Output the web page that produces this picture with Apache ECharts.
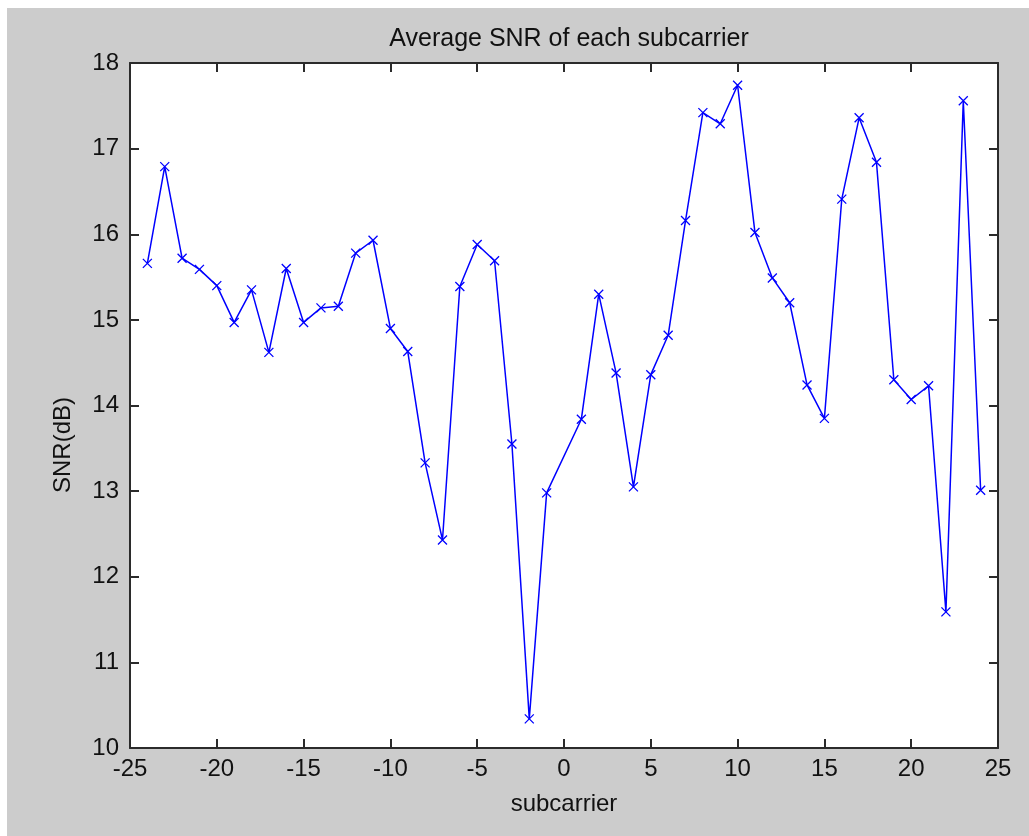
<!DOCTYPE html>
<html>
<head>
<meta charset="utf-8">
<title>Average SNR of each subcarrier</title>
<script src="https://cdn.jsdelivr.net/npm/echarts@6/dist/echarts.min.js"></script>
<style>
  html, body { margin: 0; padding: 0; background: #ffffff; }
  #chart { position: absolute; left: 7px; top: 8px; width: 1022px; height: 828px; }
</style>
</head>
<body>
<div id="chart"></div>
<script>
// Subcarrier indices (DC subcarrier 0 is not used)
const subcarriers = [
  -24, -23, -22, -21, -20, -19, -18, -17, -16, -15, -14, -13,
  -12, -11, -10, -9, -8, -7, -6, -5, -4, -3, -2, -1,
  1, 2, 3, 4, 5, 6, 7, 8, 9, 10, 11, 12,
  13, 14, 15, 16, 17, 18, 19, 20, 21, 22, 23, 24
];
// Average SNR per subcarrier, dB
const snrDb = [
  15.66, 16.79, 15.72, 15.59, 15.40, 14.97, 15.35, 14.62, 15.60, 14.97, 15.14, 15.16,
  15.78, 15.93, 14.90, 14.63, 13.33, 12.43, 15.39, 15.88, 15.69, 13.55, 10.34, 12.98,
  13.84, 15.30, 14.38, 13.05, 14.36, 14.82, 16.16, 17.42, 17.29, 17.74, 16.02, 15.49,
  15.20, 14.24, 13.85, 16.41, 17.36, 16.84, 14.30, 14.07, 14.23, 11.59, 17.56, 13.01
];
const xTicks = { min: -25, max: 25, step: 5 };
const yTicks = { min: 10, max: 18, step: 1 };

const FONT = '"Liberation Sans", Arial, sans-serif';
const AXIS_COLOR = '#2b2b2b';

const GRID = { left: 123, right: 31, top: 55, bottom: 88 };
const CHART_W = 1022;
const plotCenterX = GRID.left + (CHART_W - GRID.left - GRID.right) / 2;

const points = subcarriers.map((x, i) => [x, snrDb[i]]);

const chart = echarts.init(document.getElementById('chart'), null, { renderer: 'canvas' });

const axisCommon = {
  type: 'value',
  splitLine: { show: false },
  axisLine: { show: true, onZero: false, lineStyle: { color: AXIS_COLOR, width: 2 } },
  axisTick: { show: true, inside: true, length: 9, lineStyle: { color: AXIS_COLOR, width: 2 } },
  axisLabel: { color: '#111', fontSize: 24, fontFamily: FONT }
};

chart.setOption({
  backgroundColor: '#cccccc',
  animation: false,
  title: {
    text: 'Average SNR of each subcarrier',
    left: plotCenterX,
    textAlign: 'center',
    top: 14,
    textStyle: { color: '#111', fontSize: 25, fontWeight: 'normal', fontFamily: FONT }
  },
  grid: {
    left: GRID.left, right: GRID.right, top: GRID.top, bottom: GRID.bottom,
    show: true, backgroundColor: '#ffffff', borderWidth: 0
  },
  xAxis: [
    Object.assign({}, axisCommon, {
      position: 'bottom',
      min: xTicks.min, max: xTicks.max, interval: xTicks.step,
      axisLabel: Object.assign({}, axisCommon.axisLabel, { margin: 9 }),
      name: 'subcarrier',
      nameLocation: 'middle',
      nameGap: 44,
      nameTextStyle: { color: '#111', fontSize: 24, fontFamily: FONT }
    }),
    Object.assign({}, axisCommon, {
      position: 'top',
      min: xTicks.min, max: xTicks.max, interval: xTicks.step,
      axisLabel: { show: false }
    })
  ],
  yAxis: [
    Object.assign({}, axisCommon, {
      position: 'left',
      min: yTicks.min, max: yTicks.max, interval: yTicks.step,
      axisLabel: Object.assign({}, axisCommon.axisLabel, { margin: 11 })
    }),
    Object.assign({}, axisCommon, {
      position: 'right',
      min: yTicks.min, max: yTicks.max, interval: yTicks.step,
      axisLabel: { show: false }
    })
  ],
  graphic: [
    {
      type: 'text',
      x: 56,
      y: 437,
      rotation: Math.PI / 2,
      style: {
        text: 'SNR(dB)',
        fontSize: 24,
        fontFamily: FONT,
        fill: '#111',
        align: 'center',
        verticalAlign: 'middle'
      }
    }
  ],
  series: [
    {
      type: 'line',
      data: points,
      xAxisIndex: 0,
      yAxisIndex: 0,
      symbol: 'path://M0,0L10,10M10,0L0,10',
      symbolSize: 9,
      showAllSymbol: true,
      lineStyle: { color: '#0000ff', width: 1.5 },
      itemStyle: { color: '#0000ff', borderColor: '#0000ff', borderWidth: 1.3 }
    }
  ]
});
</script>
</body>
</html>
